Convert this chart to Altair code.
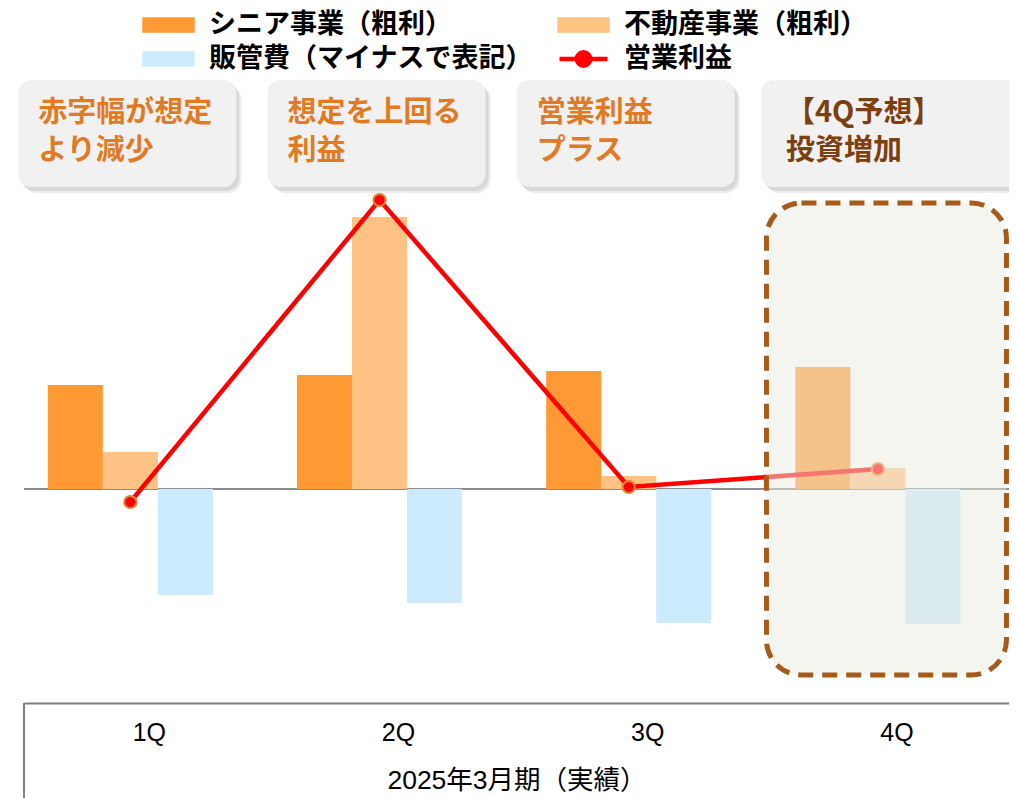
import altair as alt
import pandas as pd

# ---- data ----
quarters = ["1Q", "2Q", "3Q", "4Q"]
senior = [104, 114, 118, 122]          # シニア事業（粗利）
realestate = [37, 272, 13, 21]         # 不動産事業（粗利）
sga = [-106, -114, -134, -135]         # 販管費（マイナスで表記）
op_profit = [-13, 289, 2, 20]          # 営業利益

series_names = ["シニア事業（粗利）", "不動産事業（粗利）", "販管費（マイナスで表記）", "営業利益"]
series_colors = ["#FF9933", "#FFC285", "#CCEBFF", "#FF0000"]

callout_texts = ["赤字幅が想定\nより減少", "想定を上回る\n利益", "営業利益\nプラス", "【4Q予想】\n投資増加"]
forecast_quarter = "4Q"
period_title = "2025年3月期（実績）"

rows = []
for i, q in enumerate(quarters):
    for name, vals in zip(series_names, [senior, realestate, sga, op_profit]):
        rows.append({"quarter": q, "series": name, "value": vals[i]})
df = pd.DataFrame(rows)
callouts = pd.DataFrame({"quarter": quarters, "text": callout_texts})

JP = "Noto Sans CJK JP"
W, H = 985, 695
BOTTOM = 95

x_scale = alt.Scale(domain=quarters, paddingInner=0.33735, paddingOuter=0.145, align=0.329)
x_axis = alt.Axis(
    orient="bottom", domain=True, domainColor="#7f7f7f", domainWidth=2,
    ticks=False, tickSize=0, grid=False, labelAngle=0,
    labelFont="Liberation Sans", labelFontSize=25, labelColor="black",
    labelPadding=29, labelBaseline="middle", labelOffset=19,
    titleFont="Liberation Sans, 'Noto Sans CJK JP'", titleFontSize=26.5,
    titleFontWeight="normal", titleColor="black", titleY=77, titleBaseline="middle",
)
x_enc = alt.X("quarter:N", scale=x_scale, sort=quarters, axis=x_axis, title=period_title)
y_scale = alt.Scale(domain=[-214, 481], nice=False, zero=False)
y_enc = alt.Y("value:Q", scale=y_scale, axis=None)

not4 = alt.datum.quarter != forecast_quarter
is4 = alt.datum.quarter == forecast_quarter

def box_layer(filt, width, xoff, fill, dx=0, dy=0, opacity=1.0):
    return alt.Chart(callouts).transform_filter(filt).mark_bar(
        width=width, xOffset=xoff + dx, cornerRadius=13, fill=fill, opacity=opacity
    ).encode(x=x_enc, y=alt.value(72 + dy), y2=alt.value(179 + dy))

shadows = [
    box_layer(not4, 218, -3, "#9a9a9a", dx=5, dy=6, opacity=0.18),
    box_layer(not4, 218, -3, "#9a9a9a", dx=3, dy=4, opacity=0.25),
    box_layer(is4, 270, 18, "#9a9a9a", dx=5, dy=6, opacity=0.18),
    box_layer(is4, 270, 18, "#9a9a9a", dx=3, dy=4, opacity=0.25),
]
boxes = [
    box_layer(not4, 218, -3, "#F1F1F1"),
    box_layer(is4, 270, 18, "#F1F1F1"),
]

callout_text = alt.Chart(callouts).mark_text(
    align="left", baseline="middle", dx=-92, lineBreak="\n", lineHeight=38,
    font=JP, fontSize=29, fontWeight="bold",
).encode(
    x=x_enc, y=alt.value(105), text="text:N",
    color=alt.condition(is4, alt.value("#7B3F10"), alt.value("#E07B24")),
)

zero_rule = alt.Chart(pd.DataFrame({"value": [0]})).mark_rule(
    color="#8c8c8c", strokeWidth=2
).encode(y=y_enc)

bar_names = series_names[:3]
bars = alt.Chart(df).transform_filter(
    alt.FieldOneOfPredicate(field="series", oneOf=bar_names)
).mark_bar().encode(
    x=x_enc,
    xOffset=alt.XOffset("series:N", sort=bar_names,
                        scale=alt.Scale(domain=bar_names, paddingInner=0, paddingOuter=0)),
    y=y_enc,
    color=alt.Color("series:N", scale=alt.Scale(domain=bar_names, range=series_colors[:3]), legend=None),
)

op_df = alt.Chart(df).transform_filter(alt.datum.series == series_names[3])
line = op_df.mark_line(color="#FF0000", strokeWidth=4.5).encode(x=x_enc, y=y_enc)
points = op_df.mark_point(
    filled=True, fill="#FF0000", stroke="#E0822F", strokeWidth=2, size=150, opacity=1
).encode(x=x_enc, y=y_enc)

rect_sym = "M-1,-0.23H1V0.23H-1Z"
line_sym = "M-1,0H1M0.28,0A0.28,0.28,0,1,1,-0.28,0A0.28,0.28,0,1,1,0.28,0Z"
legend = alt.Legend(
    orient="none", legendX=118, legendY=0, columns=2, direction="horizontal",
    columnPadding=24, rowPadding=0, clipHeight=34,
    title=None, symbolSize=2304, symbolOpacity=1, symbolStrokeWidth=4.5,
    labelFont=JP, labelFontSize=27,
    labelFontWeight="bold", labelColor="black", labelLimit=600, labelOffset=14,
)
scale_args = dict(domain=series_names, range=series_colors)
legend_layer = alt.Chart(df).mark_point(filled=True, opacity=0, size=1).encode(
    x=x_enc, y=y_enc,
    fill=alt.Fill("series:N", scale=alt.Scale(**scale_args), legend=legend),
    stroke=alt.Stroke("series:N", scale=alt.Scale(**scale_args), legend=legend),
    shape=alt.Shape("series:N", scale=alt.Scale(domain=series_names,
                    range=[rect_sym, rect_sym, rect_sym, line_sym]), legend=legend),
)

overlay = alt.Chart(callouts).transform_filter(is4).mark_bar(
    width=240, xOffset=8.5, cornerRadius=35, fill="#EBEBE1", fillOpacity=0.5,
    stroke="#A65A1C", strokeWidth=5, strokeDash=[15, 9],
).encode(x=x_enc, y=alt.value(195), y2=alt.value(667))

left_rule = alt.Chart(pd.DataFrame({"a": [0]})).mark_rule(
    color="#7f7f7f", strokeWidth=2
).encode(x=alt.value(0), y=alt.value(H), y2=alt.value(H + BOTTOM))

chart = alt.layer(
    *shadows, *boxes, callout_text, zero_rule, bars, line, points, legend_layer, overlay, left_rule
).properties(
    width=W, height=H,
    autosize=alt.AutoSizeParams(type="none"),
    padding={"left": 16, "top": 0, "right": 0, "bottom": BOTTOM},
    background="white",
).configure_view(stroke=None)

chart.save("out.html", embed_options={"renderer": "svg", "actions": False})
